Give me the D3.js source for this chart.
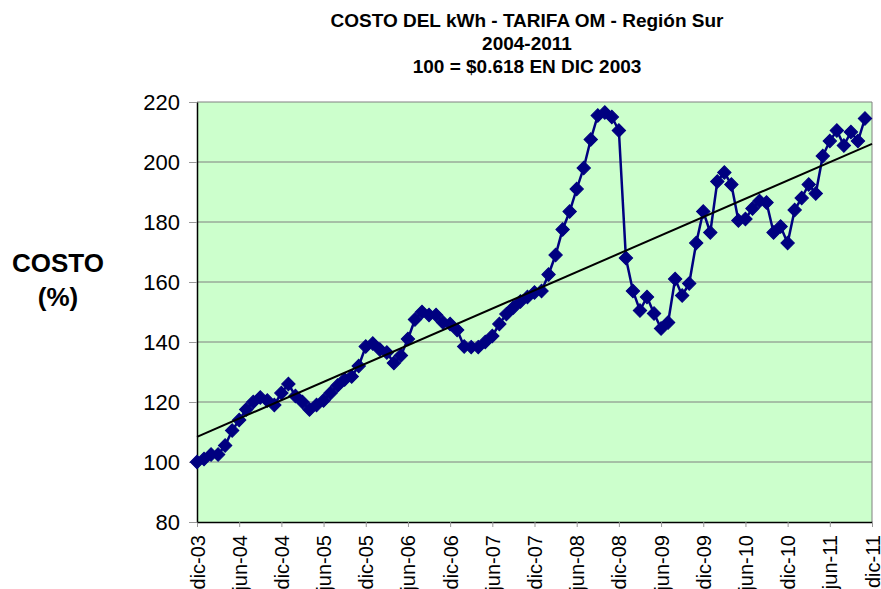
<!DOCTYPE html>
<html>
<head>
<meta charset="utf-8">
<script src="https://cdn.jsdelivr.net/npm/d3@7"></script>
<style>
  body { margin: 0; background: #fff; }
  svg text { font-family: Arial, "Liberation Sans", sans-serif; }
</style>
</head>
<body>
<div class="container"></div>
<script>
const w = 881;
const h = 589;
const margin = { top: 102, bottom: 67, left: 197, right: 9 };
const width = w - margin.left - margin.right;
const height = h - margin.top - margin.bottom;

// meses dic-03 ... dic-11
const nombresMes = ['ene', 'feb', 'mar', 'abr', 'may', 'jun', 'jul', 'ago', 'sep', 'oct', 'nov', 'dic'];
const anios = ['03', '04', '05', '06', '07', '08', '09', '10', '11'];
const meses = ['dic-03'];
anios.slice(1).forEach(a => nombresMes.forEach(m => meses.push(`${m}-${a}`)));

// indice de costo (100 = dic 2003), dic-11 sin dato
const costo = [
  100, 101, 102.5, 102.5, 105.5, 110.5, 114, 117.5, 120, 121.5, 120.5, 119,
  123, 126, 122, 120, 117.5, 119, 120.5, 123, 125.5, 127.5, 128.5, 132,
  138.5, 139.5, 137.5, 136.5, 133, 135.5, 141, 147.5, 150, 149, 149, 146.5,
  146, 144, 138.5, 138.3, 138.3, 140, 142, 146, 149.3, 151.5, 153.5, 155,
  156.5, 157, 162.5, 169, 177.5, 183.5, 191, 198, 207.5, 215.5, 216.5, 215,
  210.5, 168, 157, 150.5, 155, 149.5, 144.5, 146.5, 161, 155.5, 159.5, 173,
  183.5, 176.5, 193.5, 196.5, 192.5, 180.5, 181, 184.5, 187, 186.5, 176.5, 178.5,
  173, 184, 188, 192.5, 189.5, 202, 207, 210.5, 205.5, 210, 207, 214.5,
  null
];

const etiquetasX = ['dic-03', 'jun-04', 'dic-04', 'jun-05', 'dic-05', 'jun-06', 'dic-06', 'jun-07',
  'dic-07', 'jun-08', 'dic-08', 'jun-09', 'dic-09', 'jun-10', 'dic-10', 'jun-11', 'dic-11'];
const ticksY = [80, 100, 120, 140, 160, 180, 200, 220];
const titulo = ['COSTO DEL kWh - TARIFA OM - Región Sur', '2004-2011', '100 = $0.618 EN DIC 2003'];

const data = meses.map((m, i) => ({ mes: m, i: i, valor: costo[i] }));
const puntos = data.filter(d => d.valor != null);

const svg = d3.select('.container').append('svg')
  .attr('width', w)
  .attr('height', h);

const x = d3.scalePoint().domain(meses).range([0, width]);
const y = d3.scaleLinear().domain([80, 220]).range([height, 0]);

const chart = svg.append('g')
  .attr('transform', `translate(${margin.left}, ${margin.top})`);

chart.append('rect')
  .attr('width', width)
  .attr('height', height)
  .style('fill', '#ccffcc');

// lineas de division
chart.append('g')
  .selectAll('line')
  .data(ticksY.slice(1))
  .enter()
  .append('line')
    .attr('x1', 0)
    .attr('x2', width)
    .attr('y1', d => y(d))
    .attr('y2', d => y(d))
    .style('stroke', '#808080')
    .style('stroke-width', 1);

chart.append('line')
  .attr('x1', width).attr('x2', width)
  .attr('y1', 0).attr('y2', height)
  .style('stroke', '#808080');

// eje x
const xAxis = d3.axisBottom(x).tickValues(etiquetasX).tickSize(5).tickSizeOuter(0);
const gx = chart.append('g')
  .attr('transform', `translate(0, ${height})`)
  .call(xAxis);
gx.select('.domain').style('stroke', '#000').style('stroke-width', 1.5);
gx.selectAll('.tick line').style('stroke', '#999');
gx.selectAll('.tick text')
  .attr('transform', 'rotate(-90)')
  .attr('x', -13)
  .attr('y', 0)
  .attr('dy', '0.35em')
  .style('text-anchor', 'end')
  .style('font-size', '20px')
  .style('fill', '#000');

// eje y
const yAxis = d3.axisLeft(y).tickValues(ticksY).tickSize(8).tickPadding(9).tickSizeOuter(0);
const gy = chart.append('g').call(yAxis);
gy.select('.domain').style('stroke', '#000').style('stroke-width', 1.5);
gy.selectAll('.tick line').style('stroke', '#999');
gy.selectAll('.tick text')
  .style('font-size', '22px')
  .style('fill', '#000');

// serie
const linea = d3.line()
  .x(d => x(d.mes))
  .y(d => y(d.valor));

chart.append('path')
  .datum(puntos)
  .attr('d', linea)
  .style('fill', 'none')
  .style('stroke', '#000080')
  .style('stroke-width', 2.5);

chart.selectAll('.punto')
  .data(puntos)
  .enter()
  .append('path')
    .classed('punto', true)
    .attr('d', d3.symbol().type(d3.symbolSquare).size(90))
    .attr('transform', d => `translate(${x(d.mes)}, ${y(d.valor)}) rotate(45)`)
    .style('fill', '#000080')
    .style('stroke', '#000080')
    .style('stroke-width', 1);

// tendencia lineal (minimos cuadrados)
const mx = d3.mean(puntos, d => d.i);
const my = d3.mean(puntos, d => d.valor);
const pendiente = d3.sum(puntos, d => (d.i - mx) * (d.valor - my)) / d3.sum(puntos, d => (d.i - mx) ** 2);
const corte = my - pendiente * mx;
const xi = d3.scaleLinear().domain([0, meses.length - 1]).range([0, width]);
const tendencia = [0, meses.length - 1].map(i => ({ i: i, valor: corte + pendiente * i }));

chart.append('path')
  .datum(tendencia)
  .attr('d', d3.line().x(d => xi(d.i)).y(d => y(d.valor)))
  .style('fill', 'none')
  .style('stroke', '#000')
  .style('stroke-width', 2);

// titulos
svg.append('g')
  .selectAll('text')
  .data(titulo)
  .enter()
  .append('text')
    .attr('x', 527)
    .attr('y', (d, i) => 27 + i * 23)
    .style('text-anchor', 'middle')
    .style('font-size', '19px')
    .style('font-weight', 'bold')
    .text(d => d);

svg.append('text')
  .attr('x', 58)
  .attr('y', 272)
  .style('text-anchor', 'middle')
  .style('font-size', '26px')
  .style('font-weight', 'bold')
  .text('COSTO');

svg.append('text')
  .attr('x', 58)
  .attr('y', 306)
  .style('text-anchor', 'middle')
  .style('font-size', '26px')
  .style('font-weight', 'bold')
  .text('(%)');
</script>
</body>
</html>
